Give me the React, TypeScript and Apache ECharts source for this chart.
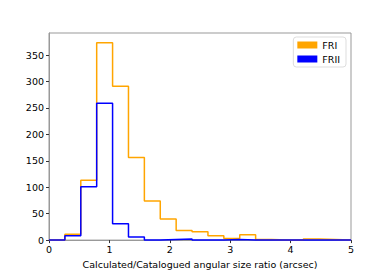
import React, { useEffect, useRef } from "react";
import * as echarts from "echarts";

const binCount = 19;
const xMin = 0;
const xMax = 5;
const friCounts = [0, 11, 113, 373, 291, 156, 74, 40, 18, 16, 8, 3, 10, 1, 0, 0, 2, 1, 0];
const friiCounts = [0, 8, 101, 259, 31, 6, 0, 1, 2, 0, 0, 1, 0, 0, 0, 0, 0, 0, 0];
const xTicks = [0, 1, 2, 3, 4, 5];
const yTicks = [0, 50, 100, 150, 200, 250, 300, 350];
const xLabel = "Calculated/Catalogued angular size ratio (arcsec)";
const seriesNames = ["FRI", "FRII"];

function stepData(counts: number[]) {
  const w = (xMax - xMin) / binCount;
  const pts: number[][] = counts.map((c, i) => [xMin + i * w, c]);
  pts.push([xMax, counts[counts.length - 1]]);
  return pts;
}

export default function App() {
  const ref = useRef<HTMLDivElement>(null);
  useEffect(() => {
    if (!ref.current) return;
    const chart = echarts.init(ref.current, undefined, { renderer: "svg" });
    const yMax = Math.max(...friCounts, ...friiCounts) * 1.05;
    const font = "DejaVu Sans";
    chart.setOption({
      animation: false,
      backgroundColor: "#fff",
      grid: {
        left: 49,
        right: 39,
        top: 33,
        bottom: 30.5,
        show: true,
        borderColor: "#999",
        borderWidth: 1,
        backgroundColor: "transparent",
      },
      legend: {
        orient: "vertical",
        right: 44,
        top: 37,
        data: seriesNames,
        icon: "rect",
        itemWidth: 20,
        itemHeight: 7,
        itemGap: 4,
        padding: [3, 6, 3, 4],
        borderColor: "#ddd",
        borderWidth: 1,
        borderRadius: 3,
        backgroundColor: "#fff",
        textStyle: { fontFamily: font, fontSize: 9.5, color: "#000", lineHeight: 10 },
      },
      xAxis: {
        type: "value",
        min: xMin,
        max: xMax,
        interval: 1,
        name: xLabel,
        nameLocation: "middle",
        nameGap: 17,
        nameTextStyle: { fontFamily: font, fontSize: 9.5, color: "#000" },
        axisLine: { show: true, lineStyle: { color: "#999" } },
        axisTick: { show: true, length: 3, lineStyle: { color: "#333" } },
        axisLabel: {
          fontFamily: font,
          fontSize: 9.5,
          color: "#000",
          margin: 4,
          formatter: (v: number) => (xTicks.includes(v) ? String(v) : ""),
        },
        splitLine: { show: false },
      },
      yAxis: {
        type: "value",
        min: 0,
        max: yMax,
        interval: 50,
        axisLine: { show: true, lineStyle: { color: "#999" } },
        axisTick: { show: true, length: 3, lineStyle: { color: "#333" } },
        axisLabel: {
          fontFamily: font,
          fontSize: 9.5,
          color: "#000",
          margin: 5,
          showMaxLabel: false,
          formatter: (v: number) => (yTicks.includes(v) ? String(v) : ""),
        },
        splitLine: { show: false },
      },
      series: [
        {
          name: seriesNames[0],
          type: "line",
          step: "end",
          data: stepData(friCounts),
          symbol: "none",
          clip: false,
          color: "#FFA500",
          lineStyle: { color: "#FFA500", width: 1.5 },
          itemStyle: { color: "#FFA500" },
          z: 2,
        },
        {
          name: seriesNames[1],
          type: "line",
          step: "end",
          data: stepData(friiCounts),
          symbol: "none",
          clip: false,
          color: "#0000FF",
          lineStyle: { color: "#0000FF", width: 1.5 },
          itemStyle: { color: "#0000FF" },
          z: 3,
        },
      ],
    });
    return () => chart.dispose();
  }, []);
  return (
    <div
      ref={ref}
      style={{ position: "fixed", left: 0, top: 0, width: 390, height: 274 }}
    />
  );
}
